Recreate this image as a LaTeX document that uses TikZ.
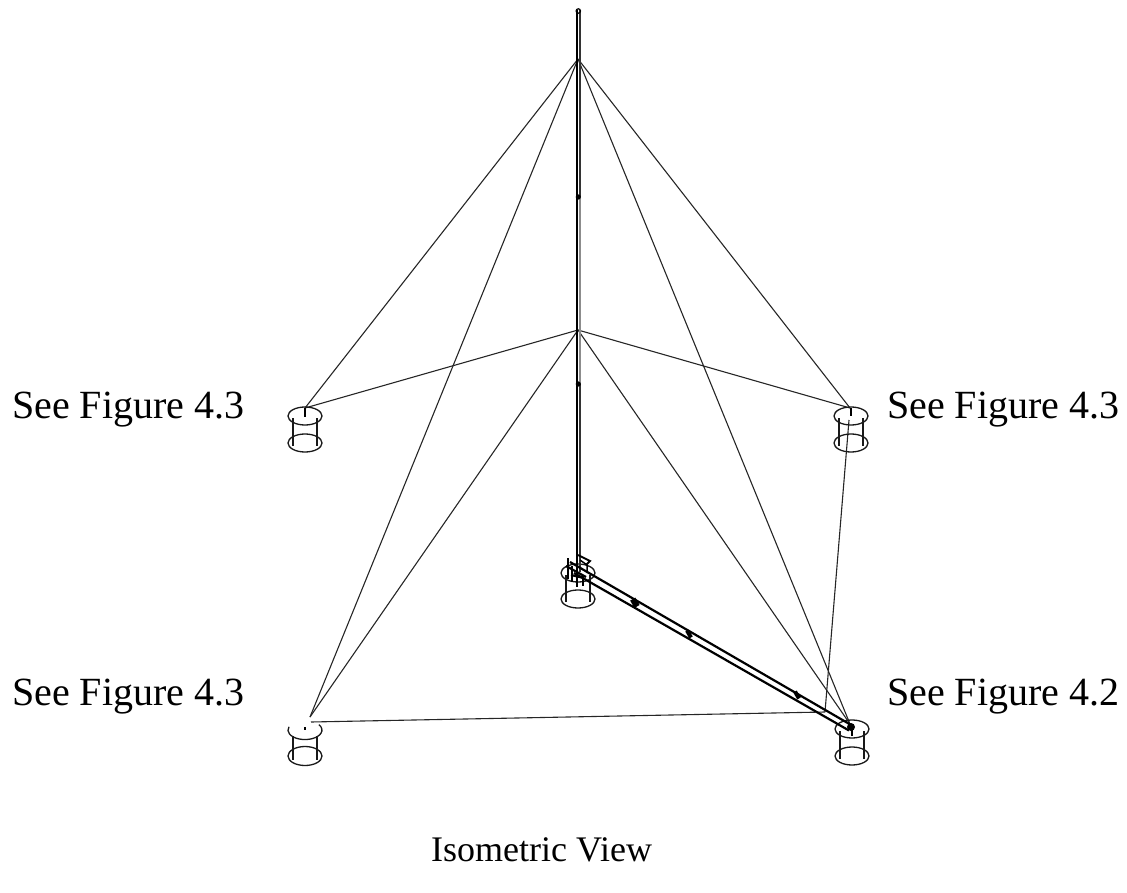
\documentclass[tikz,border=0pt]{standalone}
\usepackage{fontspec}
\setmainfont{Liberation Serif}
\tikzset{
  guy/.style={line width=1.1pt,black!85},
  cyl/.style={line width=1.3pt,black!90},
  rail/.style={line width=2.3pt,black},
  railthin/.style={line width=1.5pt,black!80},
  boomrail/.style={line width=2.2pt,black},
  tick/.style={line width=2.4pt,black},
  part/.style={line width=2.2pt,black},
  lab/.style={font=\fontsize{40}{40}\selectfont,anchor=base west,inner sep=0pt,text=black},
  labsmall/.style={lab,font=\fontsize{36}{36}\selectfont},
}
\begin{document}
\begin{tikzpicture}[x=1pt,y=-1pt]
\useasboundingbox (0,0) rectangle (1127,893);
% anchor points
\coordinate (upper) at (578,59);
\coordinate (middle) at (578,330);
\coordinate (tl) at (305,408);
\coordinate (tr) at (850,408);
\coordinate (bl) at (310,717);
\coordinate (br) at (850,724);
\coordinate (trlow) at (849,420);
\coordinate (brjoin) at (825,712);
\coordinate (bljoin) at (311,722);
% guy lines
\foreach \a in {upper,middle} \foreach \b in {tl,tr,bl,br} \draw[guy] (\a) -- (\b);
\draw[guy] (trlow) -- (brjoin);
\draw[guy] (bljoin) -- (brjoin);
% cylinders
\foreach \cx/\ty/\by in {305/416/443, 851/416/443, 578/573/599, 852/729/756}{
  \draw[cyl] (\cx,\ty) ellipse [x radius=17,y radius=9];
  \draw[cyl] (\cx,\by) ellipse [x radius=17,y radius=9];
  \draw[cyl] (\cx-12,\ty+2) -- (\cx-12,\by+3);
  \draw[cyl] (\cx+12,\ty+2) -- (\cx+12,\by+3);
}
% lower-left cylinder, top of the rim not drawn
\draw[cyl] (305,756) ellipse [x radius=17,y radius=9.5];
\draw[cyl] (289,726.8) arc[start angle=200,end angle=-35,x radius=17,y radius=9.5];
\draw[cyl] (293,736) -- (293,760);
\draw[cyl] (317,736) -- (317,760);
% ticks
\draw[tick] (305,408) -- (305,417);
\draw[tick] (851,408) -- (851,416);
\draw[tick] (305,727) -- (305,730);
\draw[tick] (852,726) -- (852,736);
% mast
\draw[rail] (576.7,10) -- (576.7,572);
\draw[railthin] (580,10) -- (580,197);
\draw[line width=1.5pt,black!45] (580,197) -- (580,384);
\draw[railthin] (580,384) -- (580,572);
\draw[line width=1.2pt] (578.3,11) circle (2.2);
\fill (578.3,197) circle (2.6);
\fill (578.3,384) circle (2.6);
% boom
\draw[boomrail] (570,562) -- (852,725.5);
\draw[boomrail] (574,573) -- (849,730.5);
\fill[rotate around={30:(635,603)}] (632,598.5) rectangle (638,607);
\fill[rotate around={30:(689,634)}] (687,630) rectangle (691,638);
\fill[rotate around={30:(797,695)}] (795,691) rectangle (799,699);
\fill (851,727) circle (4);
% base clutter
\draw[part] (568,558) -- (568,579);
\draw[part] (572,566) -- (572,582);
\draw[part] (577,570) -- (577,587);
\draw[part] (583,575) -- (583,586);
\draw[part] (566,566) -- (586,577);
\draw[part] (571,575) -- (584,578);
\draw[line width=1.8pt] (578,555) -- (590,561) -- (586,565);
\draw[line width=1.5pt] (580,560) -- (587,565) -- (587,573);
% labels
\node[lab] (a) at (12,418) {See Figure 4.3};
\node[lab] (b) at (887,418) {See Figure 4.3};
\node[lab] (c) at (12,705) {See Figure 4.3};
\node[lab] (d) at (887,705) {See Figure 4.2};
\node[labsmall] (e) at (431,861) {Isometric View};
\end{tikzpicture}
\end{document}
